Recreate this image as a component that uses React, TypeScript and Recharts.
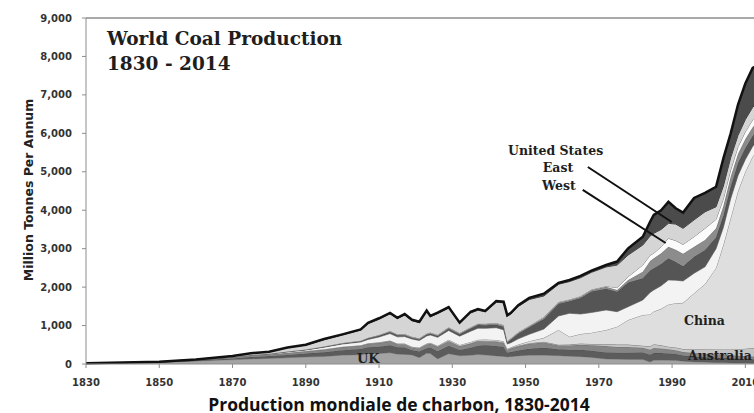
import { AreaChart, Area, XAxis, YAxis, ReferenceLine } from "recharts";

// sample years (annual data is too dense to read)
const years = [
  1830, 1840, 1850, 1860, 1870, 1875, 1880, 1885, 1890, 1895,
  1900, 1905, 1907, 1910, 1913, 1915, 1917, 1919, 1921, 1923,
  1924, 1926, 1929, 1932, 1935, 1937, 1939, 1942, 1944, 1945,
  1946, 1948, 1951, 1955, 1959, 1962, 1965, 1968, 1972, 1975,
  1978, 1982, 1984, 1985, 1987, 1989, 1991, 1993, 1996, 1999,
  2002, 2004, 2006, 2008, 2010, 2012, 2013, 2014,
];

// million tonnes per layer, bottom of the stack first
const uk = [
  15, 28, 42, 75, 110, 130, 145, 160, 180, 195,
  230, 240, 265, 270, 290, 255, 250, 235, 165, 280,
  270, 130, 265, 215, 225, 245, 235, 210, 195, 185,
  190, 210, 225, 230, 215, 200, 190, 170, 130, 125,
  120, 120, 50, 95, 100, 95, 90, 70, 55, 45,
  35, 30, 25, 20, 18, 15, 13, 12,
];
const germany = [
  2, 4, 6, 14, 35, 50, 60, 75, 90, 110,
  130, 150, 170, 180, 200, 180, 180, 120, 160, 130,
  160, 200, 210, 150, 200, 230, 250, 260, 250, 110,
  120, 140, 170, 190, 170, 170, 180, 175, 170, 170,
  175, 180, 190, 190, 185, 180, 170, 150, 140, 130,
  130, 130, 125, 120, 115, 110, 108, 105,
];
const europe = [
  2, 4, 6, 14, 30, 40, 45, 55, 60, 70,
  80, 85, 90, 95, 100, 80, 80, 70, 80, 90,
  95, 110, 120, 95, 105, 115, 110, 110, 100, 70,
  90, 110, 130, 140, 95, 110, 130, 140, 170, 150,
  150, 120, 130, 130, 120, 110, 100, 90, 90, 90,
  90, 85, 80, 75, 75, 70, 70, 70,
];
const australia = [
  0, 0, 0, 0, 0, 1, 1, 2, 3, 4,
  6, 7, 8, 10, 12, 11, 11, 11, 12, 13,
  13, 13, 12, 10, 12, 13, 13, 14, 14, 14,
  15, 15, 18, 20, 20, 25, 30, 35, 50, 60,
  60, 55, 90, 100, 80, 65, 70, 80, 100, 120,
  125, 135, 150, 170, 190, 220, 225, 230,
];
const china = [
  0, 0, 0, 0, 0, 0, 0, 0, 2, 3,
  4, 5, 6, 8, 10, 10, 12, 14, 15, 17,
  18, 20, 25, 25, 30, 30, 30, 30, 30, 20,
  20, 30, 50, 100, 385, 205, 250, 295, 365, 465,
  640, 800, 830, 850, 950, 1100, 1150, 1200, 1455, 1695,
  2120, 2720, 3420, 4115, 4602, 4985, 5084, 5133,
];
const other = [
  0, 0, 1, 2, 5, 10, 12, 25, 30, 55,
  70, 85, 100, 140, 180, 170, 180, 200, 180, 200,
  200, 220, 240, 230, 280, 300, 290, 320, 300, 120,
  120, 150, 180, 230, 365, 610, 520, 525, 520, 390,
  345, 390, 570, 560, 600, 635, 600, 570, 520, 450,
  500, 450, 500, 400, 320, 260, 255, 250,
];
const ussr = [
  0, 0, 0, 0, 0, 2, 3, 5, 8, 10,
  15, 20, 25, 30, 40, 40, 35, 25, 25, 30,
  30, 35, 45, 50, 70, 80, 80, 80, 80, 40,
  80, 130, 180, 260, 320, 310, 415, 545, 555, 520,
  630, 565, 570, 565, 565, 565, 470, 380, 430, 435,
  300, 310, 320, 330, 300, 280, 280, 280,
];
const india = [
  0, 0, 0, 0, 0, 0, 0, 2, 3, 5,
  7, 8, 10, 12, 15, 15, 17, 20, 18, 19,
  20, 20, 23, 20, 23, 25, 27, 29, 27, 20,
  20, 25, 30, 35, 30, 35, 35, 40, 50, 45,
  65, 170, 250, 260, 280, 300, 320, 330, 260, 260,
  230, 250, 250, 240, 230, 220, 220, 220,
];
const usWest = [
  0, 0, 0, 0, 0, 0, 0, 0, 2, 3,
  5, 6, 8, 10, 12, 12, 14, 13, 12, 14,
  14, 15, 15, 10, 12, 12, 12, 15, 16, 15,
  15, 15, 15, 15, 15, 15, 15, 15, 15, 60,
  85, 175, 150, 130, 170, 220, 240, 240, 260, 305,
  230, 190, 180, 180, 190, 190, 185, 180,
];
const usEast = [
  1, 3, 5, 14, 28, 45, 52, 100, 115, 180,
  210, 280, 370, 415, 450, 410, 500, 420, 410, 570,
  410, 550, 500, 250, 370, 350, 310, 540, 580, 650,
  630, 670, 680, 550, 460, 465, 480, 445, 500, 590,
  565, 520, 500, 520, 450, 390, 430, 420, 440, 430,
  330, 330, 320, 300, 320, 330, 325, 320,
];
const rest = [
  0, 1, 0, 1, 2, 2, 2, 6, 7, 15,
  13, 14, 18, 20, 21, 17, 21, 22, 23, 27,
  20, 22, 25, 20, 33, 30, 23, 32, 28, 26,
  30, 35, 42, 60, 35, 40, 45, 45, 50, 90,
  175, 215, 370, 480, 500, 560, 410, 410, 570, 490,
  520, 720, 630, 800, 940, 1020, 985, 900,
];

const yTicks = [0, 1000, 2000, 3000, 4000, 5000, 6000, 7000, 8000, 9000];
const xTicks = [1830, 1850, 1870, 1890, 1910, 1930, 1950, 1970, 1990, 2010];

// pointer lines for the US labels, in [year, Mt] pairs
const eastPointer = [[1967.0, 5125], [1989.9, 3694]];
const westPointer = [[1965.6, 4527], [1988.25, 3148]];

const layers = [
  { key: "uk", fill: "#a3a3a3", stroke: "#8a8a8a", width: 0.8 },
  { key: "germany", fill: "#5c5c5c", stroke: "#4a4a4a", width: 0.8 },
  { key: "europe", fill: "#858585", stroke: "#6a6a6a", width: 0.8 },
  { key: "australia", fill: "#c4c4c4", stroke: "#7a7a7a", width: 1 },
  { key: "china", fill: "#dedede", stroke: "#8a8a8a", width: 1 },
  { key: "other", fill: "#f3f3f3", stroke: "#777777", width: 0.8 },
  { key: "ussr", fill: "#555555", stroke: "#444444", width: 0.8 },
  { key: "india", fill: "#8c8c8c", stroke: "#666666", width: 0.8 },
  { key: "usWest", fill: "#fbfbfb", stroke: "#7a7a7a", width: 1 },
  { key: "usEast", fill: "#d5d5d5", stroke: "#333333", width: 1 },
  { key: "rest", fill: "#4b4b4b", stroke: "#111111", width: 2.5 },
];

const data = years.map((year, i) => ({
  year,
  uk: uk[i],
  germany: germany[i],
  europe: europe[i],
  australia: australia[i],
  china: china[i],
  other: other[i],
  ussr: ussr[i],
  india: india[i],
  usWest: usWest[i],
  usEast: usEast[i],
  rest: rest[i],
}));

const tickStyle = {
  fontFamily: "DejaVu Sans",
  fontWeight: "bold" as const,
  fontSize: 10,
  fill: "#333",
};

const serif = "DejaVu Serif";

export default function App() {
  return (
    <div
      style={{
        position: "absolute",
        left: 0,
        top: 0,
        width: 754,
        height: 413,
        overflow: "hidden",
        background: "#fff",
      }}
    >
      <AreaChart
        width={780}
        height={413}
        data={data}
        margin={{ top: 18, right: 20, left: 0, bottom: 19 }}
      >
        <XAxis
          dataKey="year"
          type="number"
          domain={[1830, 2014]}
          ticks={xTicks}
          interval={0}
          tick={tickStyle}
          tickSize={4}
          tickMargin={11}
          height={30}
          stroke="#8c8c8c"
        />
        <YAxis
          type="number"
          domain={[0, 9000]}
          ticks={yTicks}
          interval={0}
          width={86}
          tick={tickStyle}
          tickSize={4}
          tickMargin={10}
          stroke="#8c8c8c"
          tickFormatter={(v: number) => v.toLocaleString("en-US")}
        />
        {layers.map((l) => (
          <Area
            key={l.key}
            type="linear"
            dataKey={l.key}
            stackId="1"
            fill={l.fill}
            fillOpacity={1}
            stroke={l.stroke}
            strokeWidth={l.width}
            isAnimationActive={false}
          />
        ))}
        <ReferenceLine y={9000} stroke="#8c8c8c" strokeWidth={1.5} />
        <ReferenceLine
          segment={eastPointer.map(([x, y]) => ({ x, y }))}
          stroke="#111"
          strokeWidth={2}
          ifOverflow="visible"
        />
        <ReferenceLine
          segment={westPointer.map(([x, y]) => ({ x, y }))}
          stroke="#111"
          strokeWidth={2}
          ifOverflow="visible"
        />
      </AreaChart>
      <svg
        width={780}
        height={413}
        style={{ position: "absolute", left: 0, top: 0, pointerEvents: "none" }}
      >
        <g fontFamily={serif} fontWeight="bold" fill="#1e1e1e">
          <text x={107} y={45} fontSize={18.5}>World Coal Production</text>
          <text x={107} y={70} fontSize={18.5}>1830 - 2014</text>
          <text x={508} y={155} fontSize={12.5}>United States</text>
          <text x={558} y={172} fontSize={12.5} textAnchor="middle">East</text>
          <text x={559} y={190} fontSize={12.5} textAnchor="middle">West</text>
          <text x={684} y={325} fontSize={12.5}>China</text>
          <text x={688} y={360} fontSize={12.5}>Australia</text>
          <text x={357} y={363} fontSize={13}>UK</text>
        </g>
        <text
          transform="translate(33,190) rotate(-90)"
          textAnchor="middle"
          fontFamily="DejaVu Sans"
          fontWeight="bold"
          fontSize={12.5}
          fill="#222"
        >
          Million Tonnes Per Annum
        </text>
        <text
          x={399}
          y={411}
          textAnchor="middle"
          fontFamily="Open Sans"
          fontWeight="bold"
          fontSize={17.5}
          fill="#111"
        >
          Production mondiale de charbon, 1830-2014
        </text>
      </svg>
    </div>
  );
}
